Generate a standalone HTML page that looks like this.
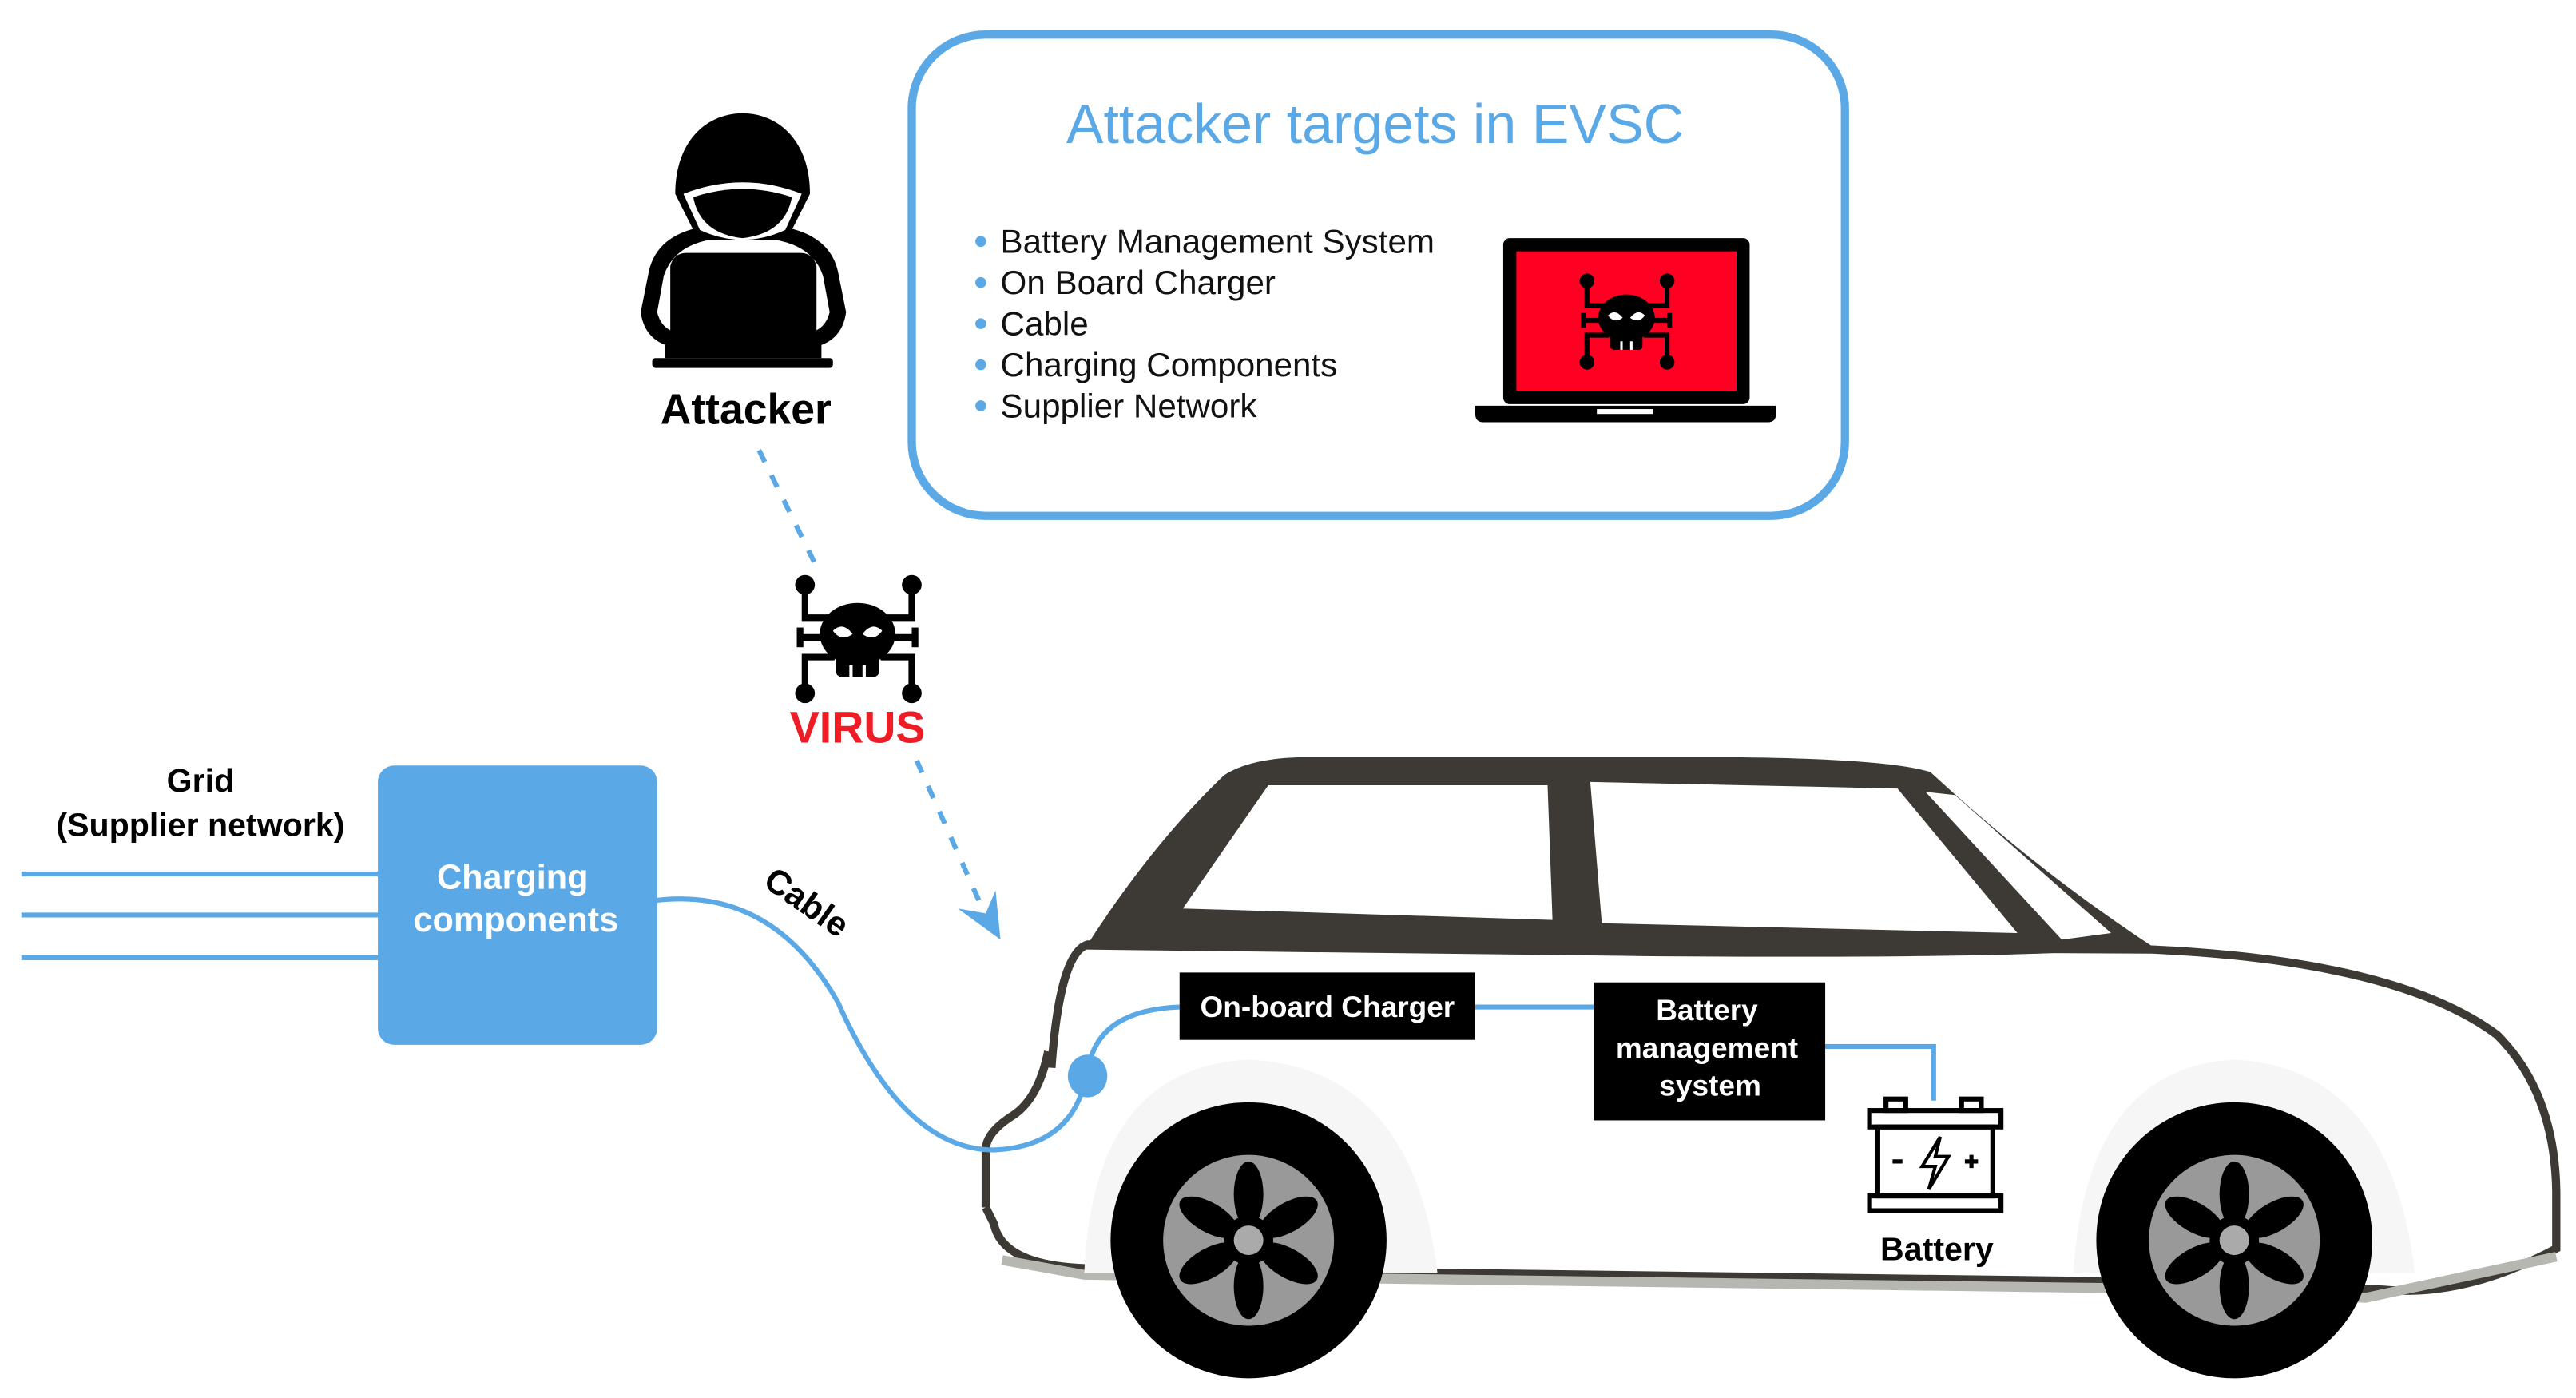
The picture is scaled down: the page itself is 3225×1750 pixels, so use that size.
<!DOCTYPE html>
<html><head><meta charset="utf-8"><style>
html,body{margin:0;padding:0;background:#fff}
svg{display:block}
text{font-family:"Liberation Sans",sans-serif}
</style></head><body>
<svg width="3225" height="1750" viewBox="0 0 1568 851" preserveAspectRatio="none" xmlns="http://www.w3.org/2000/svg">
<defs>
<g id="virus">
 <g stroke="#000" stroke-width="4" fill="none">
  <path d="M-32,-31 V-12 H-14"/><path d="M33,-31 V-12 H14"/>
  <path d="M-32,33 V12 H-14"/><path d="M33,33 V12 H14"/>
  <path d="M-35,0 H35"/><path d="M-35,-6 V6"/><path d="M35,-6 V6"/>
 </g>
 <g fill="#000">
  <circle cx="-32" cy="-32" r="6"/><circle cx="33" cy="-32" r="6"/>
  <circle cx="-32" cy="34" r="6"/><circle cx="33" cy="34" r="6"/>
  <ellipse cx="0" cy="-2" rx="23" ry="19"/>
  <rect x="-13" y="10" width="26" height="14" rx="3"/>
 </g>
 <path d="M-15,-4 Q-9,-10 -3,-2 Q-10,3 -15,-4Z M15,-4 Q9,-10 3,-2 Q10,3 15,-4Z" fill="#fff"/>
 <path d="M-4,17 V24 M4,17 V24" stroke="#fff" stroke-width="2"/>
</g>
</defs>

<!-- top box -->
<rect x="555" y="21" width="568" height="293" rx="45" fill="#fff" stroke="#5aa9e6" stroke-width="5"/>
<text x="837" y="87" font-size="34" fill="#5aa9e6" text-anchor="middle">Attacker targets in EVSC</text>
<g font-size="20.5" fill="#111">
 <text x="609" y="154">Battery Management System</text>
 <text x="609" y="179">On Board Charger</text>
 <text x="609" y="204">Cable</text>
 <text x="609" y="229">Charging Components</text>
 <text x="609" y="254">Supplier Network</text>
</g>
<g fill="#5aa9e6">
 <circle cx="597" cy="147" r="3.3"/><circle cx="597" cy="172" r="3.3"/><circle cx="597" cy="197" r="3.3"/><circle cx="597" cy="222" r="3.3"/><circle cx="597" cy="247" r="3.3"/>
</g>
<!-- laptop -->
<rect x="915" y="145" width="150" height="101" rx="4" fill="#000"/>
<rect x="923" y="153" width="134" height="85" fill="#ff0022"/>
<path d="M898,247 H1081 V252 Q1081,257 1076,257 H903 Q898,257 898,252Z" fill="#000"/>
<rect x="972" y="249" width="34" height="3" fill="#fff"/>
<g transform="translate(990,195) scale(0.75)"><use href="#virus"/></g>

<!-- attacker -->
<path d="M428,138 Q400,143 395,165 L390,190 Q392,205 405,210 L405,218 H500 V210 Q513,205 515,190 L510,165 Q505,143 476,138 Z" fill="#000"/>
<path d="M432,146 Q410,150 404,168 L400,190 Q402,198 408,201 V162 Q410,154 418,154 H487 Q495,154 497,162 V201 Q503,198 505,190 L501,168 Q495,150 472,146 Z" fill="#fff"/>
<path d="M411,118 C411,86 430,69 452,69 C474,69 493,86 493,118 L482,140 L422,140Z" fill="#000"/>
<path d="M416,118 Q452,104 488,118 L478,140 Q452,152 426,140Z" fill="#fff"/>
<path d="M422,120 Q452,110 482,120 Q478,142 452,145 Q426,142 422,120Z" fill="#000"/>
<rect x="397" y="218" width="110" height="6" rx="2" fill="#000"/>
<text x="454" y="258" font-size="26" font-weight="bold" fill="#000" text-anchor="middle">Attacker</text>

<!-- dashed links -->
<path d="M462,274 L497,345" stroke="#5aa9e6" stroke-width="3" stroke-dasharray="8,9" fill="none"/>
<path d="M558,463 L598,553" stroke="#5aa9e6" stroke-width="3" stroke-dasharray="8,9" fill="none"/>
<path d="M583,553 L609,572 L606,542 L600,556Z" fill="#5aa9e6"/>
<g transform="translate(522,388)"><use href="#virus"/></g>
<text x="522" y="452" font-size="27" font-weight="bold" fill="#ee1c25" text-anchor="middle">VIRUS</text>

<!-- grid -->
<text x="122" y="482" font-size="20" font-weight="bold" fill="#000" text-anchor="middle">Grid</text>
<text x="122" y="509" font-size="20" font-weight="bold" fill="#000" text-anchor="middle">(Supplier network)</text>
<g stroke="#5aa9e6" stroke-width="3"><path d="M13,532 H232 M13,557 H232 M13,583 H232"/></g>
<rect x="230" y="466" width="170" height="170" rx="10" fill="#5aa9e6"/>
<text x="312" y="541" font-size="21" font-weight="bold" fill="#fff" text-anchor="middle">Charging</text>
<text x="314" y="567" font-size="21" font-weight="bold" fill="#fff" text-anchor="middle">components</text>

<!-- car body -->
<path d="M662,575 Q645,590 640,640 Q640,680 622,690 Q602,710 600,740 Q600,768 622,772 L1580,780 L1555,780 Q1560,740 1555,700 Q1548,640 1500,612 Q1420,580 1310,575 Q1300,570 1290,575 L760,560 Z" fill="#fff"/>
<path d="M640,650 Q645,580 662,575 L1310,578 Q1460,585 1520,630 Q1555,665 1556,725 L1556,760 Q1500,790 1450,785 L1290,780 L660,772 Q610,770 605,745 L600,735" fill="none" stroke="#3d3a35" stroke-width="5"/>
<path d="M600,700 Q600,690 615,680 Q632,670 638,640" fill="none" stroke="#3d3a35" stroke-width="5"/>
<path d="M600,700 L600,735" stroke="#3d3a35" stroke-width="5"/>
<path d="M610,767 L660,776 L1280,784 L1440,790 L1556,765" stroke="#b7b7b2" stroke-width="6" fill="none"/>
<!-- wheel arches -->
<path d="M660,775 Q665,650 760,645 Q860,650 875,775Z" fill="#f6f6f6"/>
<path d="M1262,775 Q1270,650 1360,645 Q1455,650 1470,775Z" fill="#f6f6f6"/>
<!-- roof -->
<path d="M660,578 Q700,515 745,472 Q760,462 790,461 L1060,461 Q1150,462 1175,470 Q1240,530 1310,576 Q1250,584 1000,582 Z" fill="#3d3a35"/>
<path d="M720,553 L772,478 L942,478 L945,560Z" fill="#fff"/>
<path d="M968,476 L1155,480 L1228,568 L975,562Z" fill="#fff"/>
<path d="M1172,482 L1190,484 L1285,568 L1255,572Z" fill="#fff"/>

<!-- wheels -->
<g>
 <circle cx="760" cy="755" r="84" fill="#000"/>
 <circle cx="760" cy="755" r="52" fill="#999"/>
 <g fill="#000" transform="translate(760,755)">
  <ellipse cx="0" cy="-28" rx="9" ry="20"/><ellipse cx="0" cy="28" rx="9" ry="20"/>
  <ellipse cx="0" cy="-28" rx="9" ry="20" transform="rotate(60)"/><ellipse cx="0" cy="28" rx="9" ry="20" transform="rotate(60)"/>
  <ellipse cx="0" cy="-28" rx="9" ry="20" transform="rotate(120)"/><ellipse cx="0" cy="28" rx="9" ry="20" transform="rotate(120)"/>
  <circle r="15"/>
 </g>
 <circle cx="760" cy="755" r="9" fill="#aaa"/>
</g>
<g>
 <circle cx="1360" cy="755" r="84" fill="#000"/>
 <circle cx="1360" cy="755" r="52" fill="#999"/>
 <g fill="#000" transform="translate(1360,755)">
  <ellipse cx="0" cy="-28" rx="9" ry="20"/><ellipse cx="0" cy="28" rx="9" ry="20"/>
  <ellipse cx="0" cy="-28" rx="9" ry="20" transform="rotate(60)"/><ellipse cx="0" cy="28" rx="9" ry="20" transform="rotate(60)"/>
  <ellipse cx="0" cy="-28" rx="9" ry="20" transform="rotate(120)"/><ellipse cx="0" cy="28" rx="9" ry="20" transform="rotate(120)"/>
  <circle r="15"/>
 </g>
 <circle cx="1360" cy="755" r="9" fill="#aaa"/>
</g>

<!-- cable -->
<path d="M400,548 Q470,540 510,610 Q550,700 605,700 Q650,698 660,660" fill="none" stroke="#5aa9e6" stroke-width="3"/>
<text x="487" y="555" font-size="21" font-weight="bold" fill="#000" text-anchor="middle" transform="rotate(35 487 555)">Cable</text>
<path d="M662,655 Q665,615 718,613 M897,613 H970 M1110,637 H1177 V670" fill="none" stroke="#5aa9e6" stroke-width="3"/>
<ellipse cx="662" cy="655" rx="12" ry="13" fill="#5aa9e6"/>

<!-- boxes -->
<rect x="718" y="592" width="180" height="41" fill="#000"/>
<text x="808" y="619" font-size="18" font-weight="bold" fill="#fff" text-anchor="middle">On-board Charger</text>
<rect x="970" y="598" width="141" height="84" fill="#000"/>
<g font-size="18" font-weight="bold" fill="#fff" text-anchor="middle">
 <text x="1039" y="621">Battery</text><text x="1039" y="644">management</text><text x="1041" y="667">system</text>
</g>
<!-- battery -->
<g fill="none" stroke="#000" stroke-width="3">
 <rect x="1138" y="676" width="80" height="10"/>
 <rect x="1143" y="686" width="70" height="42"/>
 <rect x="1138" y="728" width="80" height="9"/>
 <rect x="1148" y="669" width="12" height="7"/><rect x="1194" y="669" width="12" height="7"/>
</g>
<path d="M1152,707 H1158 M1196,707 H1204 M1200,703 V711" stroke="#000" stroke-width="2.5"/>
<path d="M1181,692 L1170,710 H1178 L1174,724 L1186,704 H1178Z" fill="none" stroke="#000" stroke-width="2"/>
<text x="1179" y="767" font-size="20" font-weight="bold" fill="#000" text-anchor="middle">Battery</text>
</svg>
</body></html>
